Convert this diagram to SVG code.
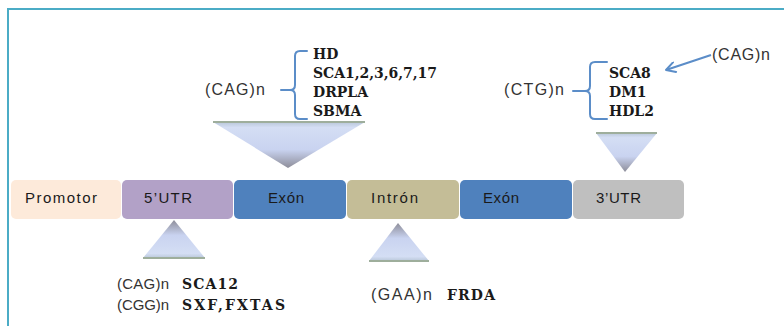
<svg xmlns="http://www.w3.org/2000/svg" width="784" height="326" viewBox="0 0 784 326">
  <defs>
    <linearGradient id="triDown" x1="0" y1="0" x2="0" y2="1">
      <stop offset="0" stop-color="#b9c7d9"/>
      <stop offset="0.12" stop-color="#d4def4"/>
      <stop offset="0.6" stop-color="#c9d3f0"/>
      <stop offset="1" stop-color="#8d8d99"/>
    </linearGradient>
    <linearGradient id="triUp" x1="0" y1="1" x2="0" y2="0">
      <stop offset="0" stop-color="#b9c7d9"/>
      <stop offset="0.12" stop-color="#d4def4"/>
      <stop offset="0.6" stop-color="#c9d3f0"/>
      <stop offset="1" stop-color="#8d8d99"/>
    </linearGradient>
    <marker id="openHead" viewBox="0 0 12 12" refX="11" refY="6" markerWidth="12" markerHeight="12" markerUnits="userSpaceOnUse" orient="auto">
      <path d="M2,1 L11,6 L2,11" fill="none" stroke="#5b8dc8" stroke-width="2" stroke-linecap="round" stroke-linejoin="round"/>
    </marker>
  </defs>
  <style>
    .frame { fill: none; stroke: #4bacc6; stroke-width: 2; }
    .seg { stroke: none; }
    .segLabel { font-family: "Liberation Sans", Arial, sans-serif; font-size: 15px; fill: #1a1a1a; }
    .repeat { font-family: "Liberation Sans", Arial, sans-serif; font-size: 16px; fill: #333333; }
    .repeatSmall { font-size: 15px; }
    .disease { font-family: "DejaVu Serif", "Liberation Serif", serif; font-weight: bold; font-size: 14px; fill: #1a1a1a; }
    .brace { fill: none; stroke: #5b8dc8; stroke-width: 2; stroke-linecap: round; stroke-linejoin: round; }
    .band { fill: #9eae9c; }
  </style>

  <rect width="784" height="326" fill="#ffffff"/>
  <path class="frame" d="M8,326 V9 H784"/>

  <!-- gene segments -->
  <g id="promotor">
    <rect class="seg" x="11" y="180" width="110" height="39" rx="5" fill="#fdeada"/>
    <text class="segLabel" x="25" y="203" textLength="72">Promotor</text>
  </g>
  <g id="utr5">
    <rect class="seg" x="122" y="180" width="111" height="39" rx="5" fill="#b2a1c7"/>
    <text class="segLabel" x="144" y="203" textLength="48">5’UTR</text>
  </g>
  <g id="exon1">
    <rect class="seg" x="234" y="180" width="112" height="39" rx="5" fill="#4f81bd"/>
    <text class="segLabel" x="268" y="203" textLength="36">Exón</text>
  </g>
  <g id="intron">
    <rect class="seg" x="347" y="180" width="112" height="39" rx="5" fill="#c4bd97"/>
    <text class="segLabel" x="371" y="203" textLength="47">Intrón</text>
  </g>
  <g id="exon2">
    <rect class="seg" x="460" y="180" width="112" height="39" rx="5" fill="#4f81bd"/>
    <text class="segLabel" x="483" y="203" textLength="36">Exón</text>
  </g>
  <g id="utr3">
    <rect class="seg" x="573" y="180" width="111" height="39" rx="5" fill="#bfbfbf"/>
    <text class="segLabel" x="596" y="203" textLength="45">3’UTR</text>
  </g>

  <!-- repeat expansions in the coding exon -->
  <g id="exonRepeats">
    <polygon points="213,122 365,122 288,168" fill="url(#triDown)"/>
    <rect class="band" x="213" y="121" width="152" height="2"/>
    <text class="repeat" x="205" y="95" textLength="60">(CAG)n</text>
    <path class="brace" d="M307,51 H300 Q295,51 295,56 V85 Q295,90 290,90 H281 M290,90 Q295,90 295,95 V114 Q295,119 300,119 H307"/>
    <text class="disease" x="313" y="59">HD</text>
    <text class="disease" x="313" y="78" textLength="124">SCA1,2,3,6,7,17</text>
    <text class="disease" x="313" y="97">DRPLA</text>
    <text class="disease" x="313" y="116">SBMA</text>
  </g>

  <!-- repeat expansions in the 3' UTR -->
  <g id="utr3Repeats">
    <polygon points="596,133 657,133 625,172" fill="url(#triDown)"/>
    <rect class="band" x="596" y="132" width="61" height="2"/>
    <text class="repeat" x="504" y="95" textLength="60">(CTG)n</text>
    <path class="brace" d="M607,62 H595 Q590,62 590,67 V86 Q590,91 585,91 H573 M585,91 Q590,91 590,96 V114 Q590,119 595,119 H607"/>
    <text class="disease" x="609" y="78">SCA8</text>
    <text class="disease" x="609" y="97">DM1</text>
    <text class="disease" x="609" y="116">HDL2</text>
    <text class="repeat" x="712" y="60" textLength="58">(CAG)n</text>
  </g>

  <!-- repeat expansions in the 5' UTR -->
  <g id="utr5Repeats">
    <polygon points="174,220 205,258 143,258" fill="url(#triUp)"/>
    <rect class="band" x="143" y="257" width="62" height="2"/>
    <text class="repeat repeatSmall" x="117" y="289" textLength="52">(CAG)n</text>
    <text class="disease" x="182" y="289" textLength="56">SCA12</text>
    <text class="repeat repeatSmall" x="117" y="310" textLength="52">(CGG)n</text>
    <text class="disease" x="182" y="310" textLength="103">SXF,FXTAS</text>
  </g>

  <!-- repeat expansion in the intron -->
  <g id="intronRepeats">
    <polygon points="398,223 429,261 369,261" fill="url(#triUp)"/>
    <rect class="band" x="369" y="260" width="60" height="2"/>
    <text class="repeat" x="371" y="300" textLength="61">(GAA)n</text>
    <text class="disease" x="447" y="300" textLength="48">FRDA</text>
  </g>

  <!-- connectors -->
  <g id="connectors">
    <line x1="711" y1="55" x2="666" y2="70" stroke="#5b8dc8" stroke-width="2" marker-end="url(#openHead)"/>
  </g>
</svg>
